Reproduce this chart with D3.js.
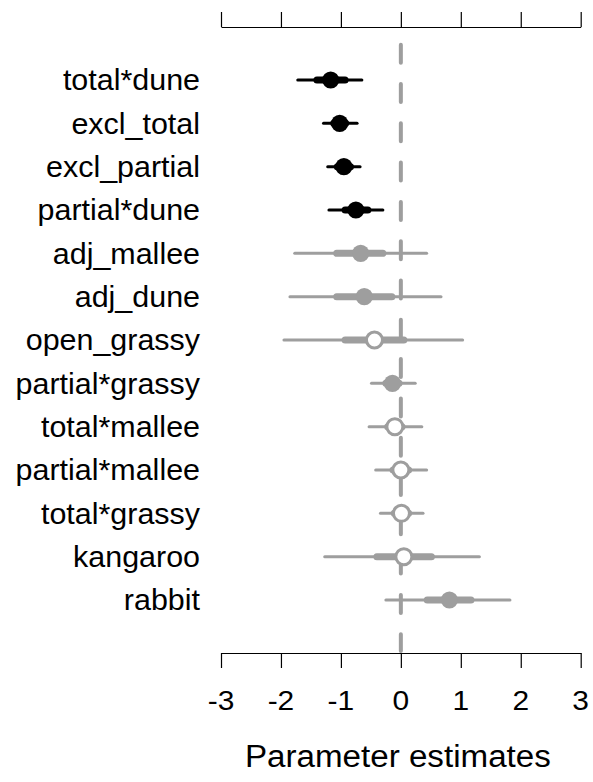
<!DOCTYPE html>
<html>
<head>
<meta charset="utf-8">
<script src="https://cdn.jsdelivr.net/npm/d3@7"></script>
<style>
  body { margin: 0; background: #fff; }
  text { font-family: "Liberation Sans", Arial, Helvetica, sans-serif; fill: #000; }
</style>
</head>
<body>
<div id="chart"></div>
<script>
// Parameter names, top to bottom.
const params = ["total*dune", "excl_total", "excl_partial", "partial*dune", "adj_mallee",
  "adj_dune", "open_grassy", "partial*grassy", "total*mallee", "partial*mallee",
  "total*grassy", "kangaroo", "rabbit"];

// Point estimates.
const estimates = [-1.17, -1.02, -0.95, -0.75, -0.67, -0.61, -0.44, -0.14, -0.10, 0.00, 0.01, 0.05, 0.81];

// Outer (thin) interval.
const outerLow  = [-1.72, -1.29, -1.22, -1.20, -1.77, -1.85, -1.95, -0.49, -0.53, -0.42, -0.34, -1.27, -0.25];
const outerHigh = [-0.65, -0.73, -0.68, -0.30, 0.43, 0.67, 1.03, 0.24, 0.35, 0.43, 0.37, 1.31, 1.82];

// Inner (thick) interval.
const innerLow  = [-1.40, -1.12, -1.06, -0.93, -1.07, -1.07, -0.93, -0.25, -0.22, -0.13, -0.11, -0.40, 0.44];
const innerHigh = [-0.93, -0.92, -0.84, -0.55, -0.30, -0.15, 0.05, -0.03, 0.02, 0.13, 0.13, 0.51, 1.17];

// Marker kind for each parameter: black, gray filled, or open.
const kinds = ["black", "black", "black", "black", "gray", "gray", "open", "gray",
  "open", "open", "open", "open", "gray"];

const xTicks = [-3, -2, -1, 0, 1, 2, 3];
const xTitle = "Parameter estimates";

const rows = params.map((p, i) => ({
  name: p, est: estimates[i], lo: outerLow[i], hi: outerHigh[i],
  lo50: innerLow[i], hi50: innerHigh[i], kind: kinds[i]
}));

const W = 593, H = 782;
const gray = "#9e9e9e";

const svg = d3.select("#chart").append("svg")
  .attr("width", W)
  .attr("height", H);

const x = d3.scaleLinear().domain([-3, 3]).range([221, 580.7]);
const y = d3.scalePoint().domain(params).range([80, 600]);

const topY = 27, bottomY = 653;

// Axes (no labels on the top one).
svg.append("g")
  .attr("transform", `translate(0,${topY})`)
  .call(d3.axisTop(x).tickValues(xTicks).tickSize(15).tickSizeOuter(0).tickFormat(""))
  .call(g => g.selectAll("path, line").attr("stroke", "#000").attr("stroke-width", 1.2));

svg.append("g")
  .attr("transform", `translate(0,${bottomY})`)
  .call(d3.axisBottom(x).tickValues(xTicks).tickSize(15).tickSizeOuter(0).tickFormat(""))
  .call(g => g.selectAll("path, line").attr("stroke", "#000").attr("stroke-width", 1.2));

// Tick labels.
svg.selectAll(".tick-label")
  .data(xTicks)
  .enter().append("text")
  .attr("class", "tick-label")
  .attr("transform", d => `translate(${x(d)},710) scale(1.07,1)`)
  .attr("text-anchor", "middle")
  .attr("font-size", "28px")
  .text(d => d);

// Axis title.
svg.append("text")
  .attr("transform", `translate(${x(0) - 3},767) scale(1.07,1)`)
  .attr("text-anchor", "middle")
  .attr("font-size", "31px")
  .text(xTitle);

// Zero reference line.
svg.append("line")
  .attr("x1", x(0)).attr("x2", x(0))
  .attr("y1", 44.7).attr("y2", 651)
  .attr("stroke", gray)
  .attr("stroke-width", 4)
  .attr("stroke-linecap", "round")
  .attr("stroke-dasharray", "18,21.3");

// Row labels.
svg.selectAll(".row-label")
  .data(rows)
  .enter().append("text")
  .attr("class", "row-label")
  .attr("transform", d => `translate(200,${y(d.name)}) scale(1.05,1)`)
  .attr("dy", "0.36em")
  .attr("text-anchor", "end")
  .attr("font-size", "29px")
  .text(d => d.name);

const marks = svg.selectAll(".row")
  .data(rows)
  .enter().append("g")
  .attr("class", "row")
  .attr("transform", d => `translate(0,${y(d.name)})`);

const lineColor = d => d.kind === "black" ? "#000" : gray;

// Thin outer interval.
marks.append("line")
  .attr("x1", d => x(d.lo)).attr("x2", d => x(d.hi))
  .attr("stroke", lineColor)
  .attr("stroke-width", 3)
  .attr("stroke-linecap", "round");

// Thick inner interval.
marks.append("line")
  .attr("x1", d => x(d.lo50)).attr("x2", d => x(d.hi50))
  .attr("stroke", lineColor)
  .attr("stroke-width", 7)
  .attr("stroke-linecap", "round");

// Point estimate.
marks.append("circle")
  .attr("cx", d => x(d.est))
  .attr("r", d => d.kind === "open" ? 8 : 8.6)
  .attr("fill", d => d.kind === "black" ? "#000" : d.kind === "gray" ? gray : "#fff")
  .attr("stroke", d => d.kind === "open" ? gray : "none")
  .attr("stroke-width", 3);
</script>
</body>
</html>
